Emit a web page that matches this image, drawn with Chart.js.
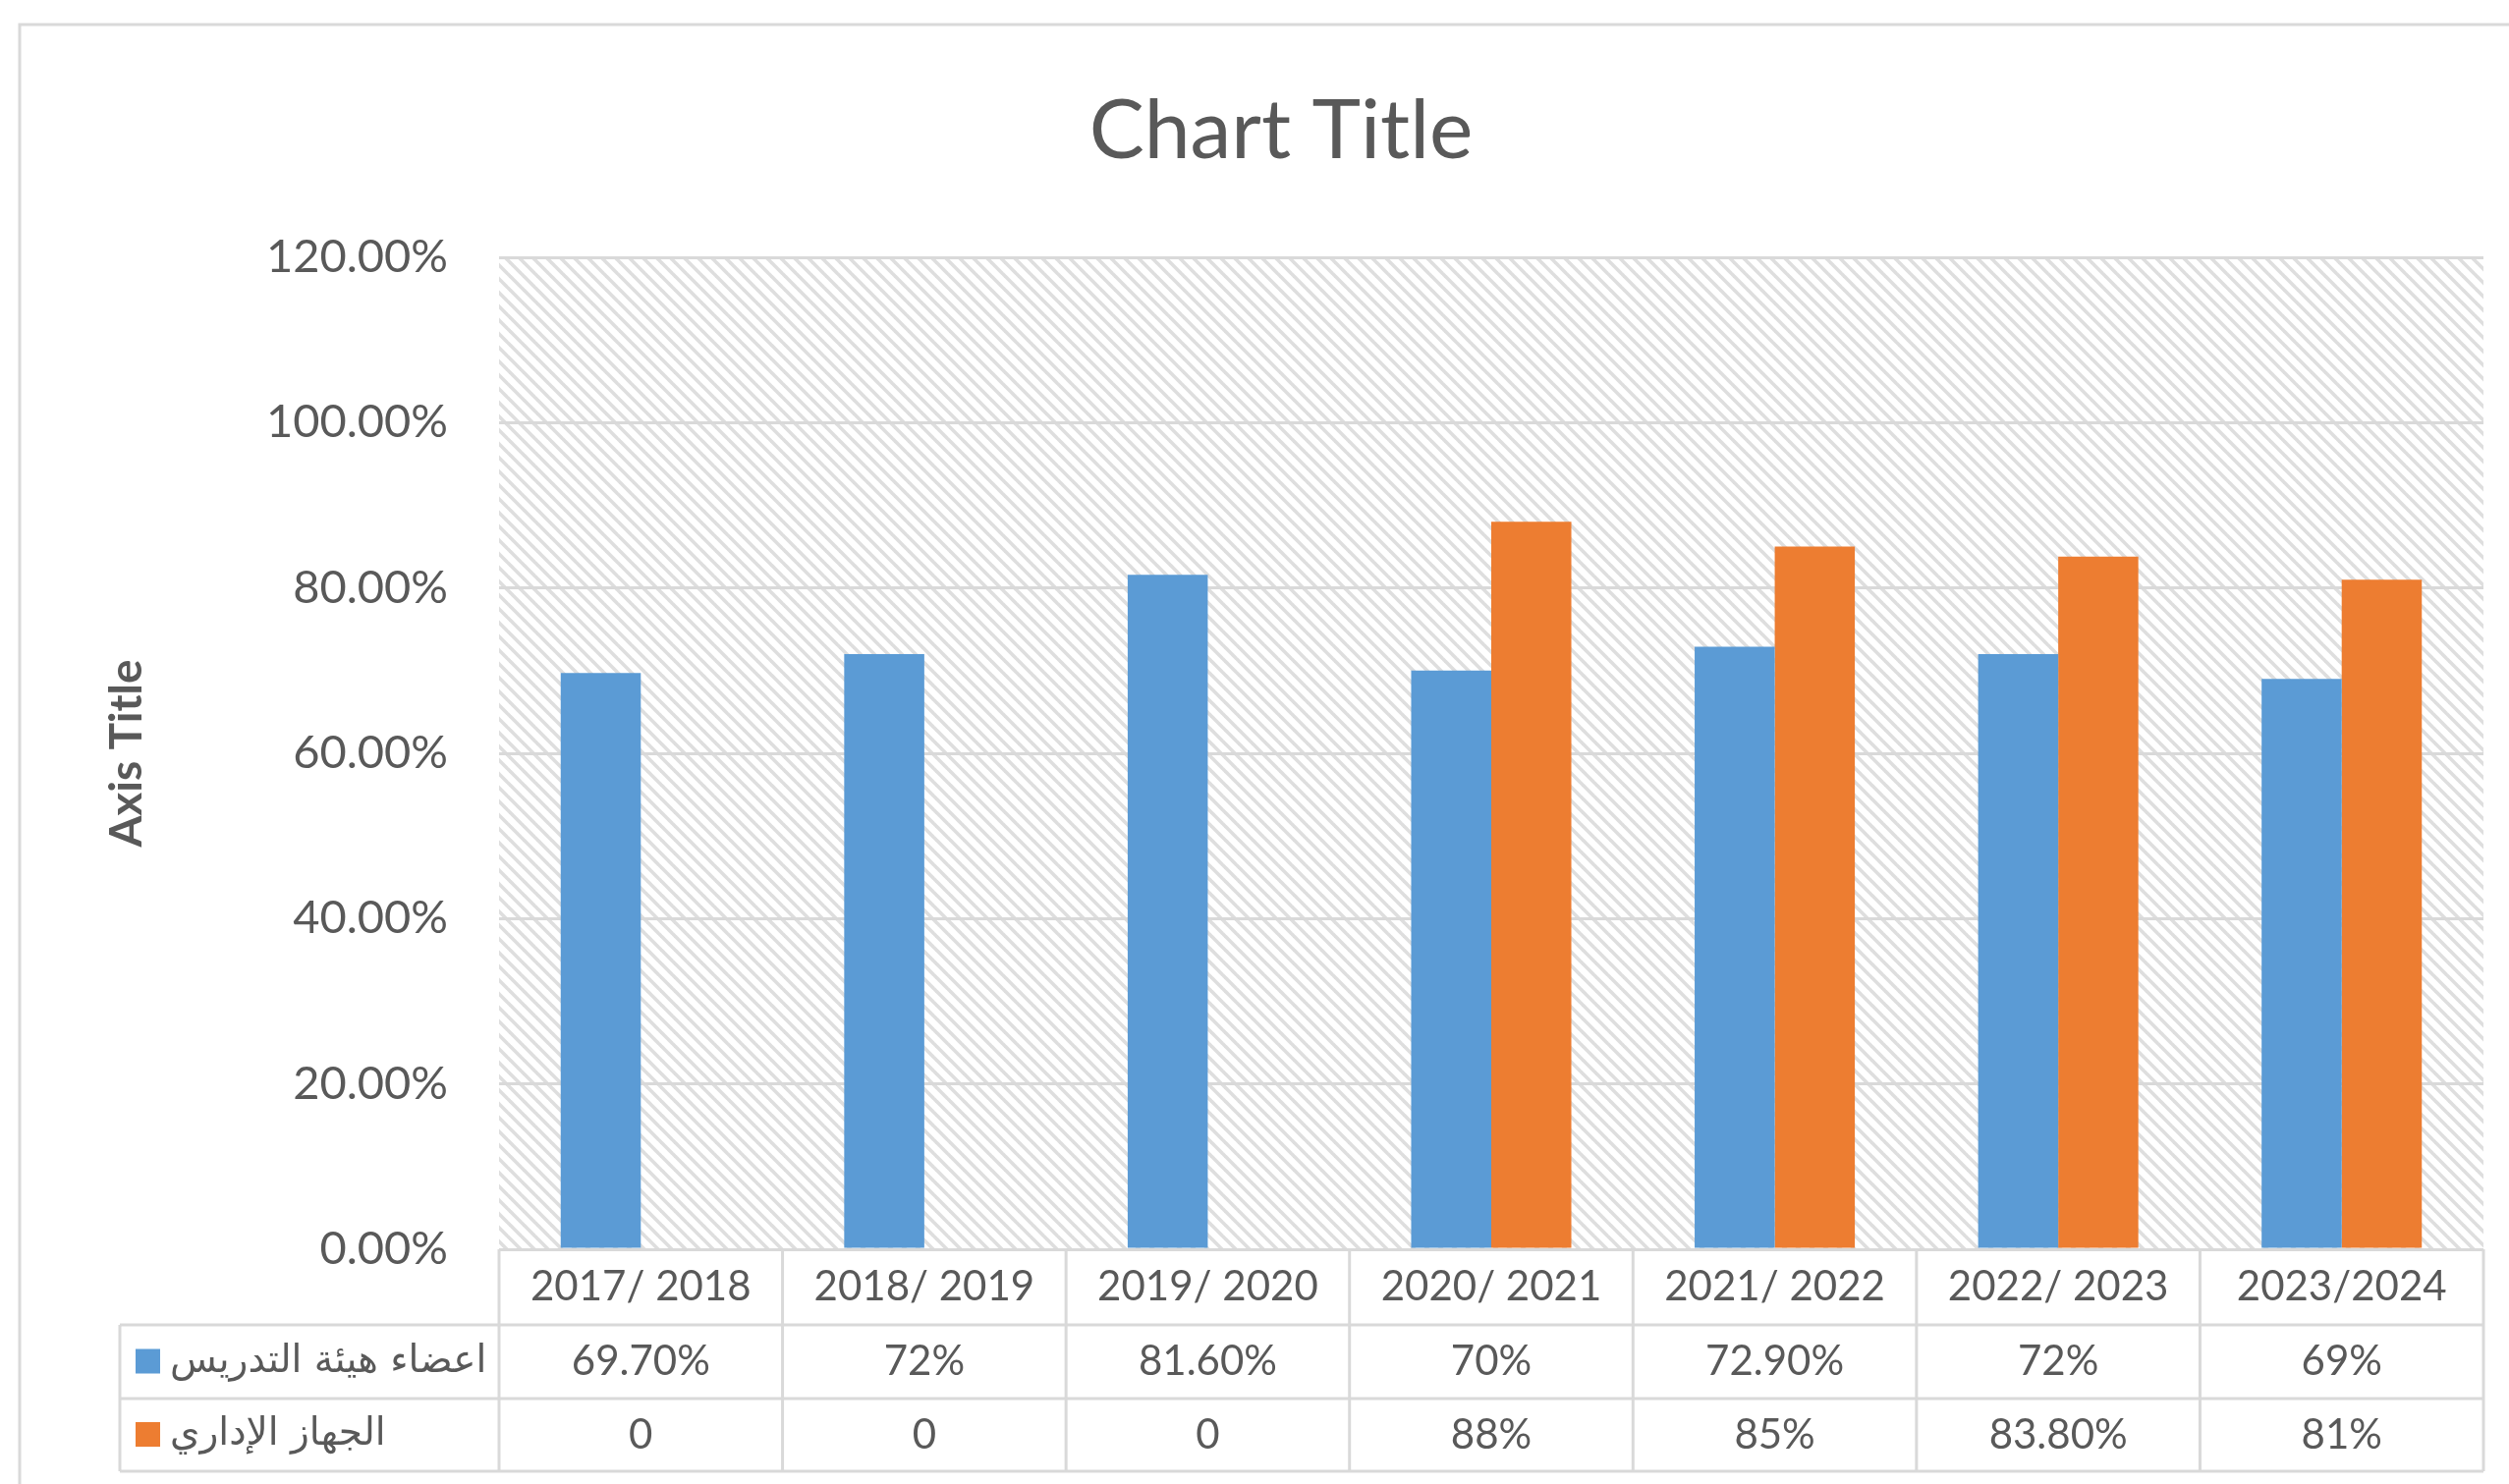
<!DOCTYPE html>
<html>
<head>
<meta charset="utf-8">
<script src="https://cdn.jsdelivr.net/npm/chart.js@4"></script>
<style>
  html, body { margin: 0; padding: 0; background: #fff; }
  canvas { display: block; }
</style>
</head>
<body>
<canvas id="grafica" width="2554" height="1511"></canvas>
<script>
// datos
var tituloGrafico = 'Chart Title';
var tituloEje = 'Axis Title';
var categorias = ['2017/ 2018', '2018/ 2019', '2019/ 2020', '2020/ 2021', '2021/ 2022', '2022/ 2023', '2023/2024'];
var nombresSeries = ['اعضاء هيئة التدريس', 'الجهاز الإداري'];
var valoresDocentes = [69.7, 72, 81.6, 70, 72.9, 72, 69];
var valoresAdmin = [0, 0, 0, 88, 85, 83.8, 81];
var etiquetasDocentes = ['69.70%', '72%', '81.60%', '70%', '72.90%', '72%', '69%'];
var etiquetasAdmin = ['0', '0', '0', '88%', '85%', '83.80%', '81%'];
var ejeMin = 0, ejeMax = 120, ejePaso = 20;

var colores = ['#5B9BD5', '#ED7D31'];
var gris = '#595959';
var lineaGris = '#d9d9d9';

function rayado(){
    var s = 14;
    var c = document.createElement('canvas');
    c.width = s; c.height = s;
    var g = c.getContext('2d');
    g.strokeStyle = '#dedede';
    g.lineWidth = 3.6;
    for (var k = -1; k <= 1; k++) {
        g.beginPath();
        g.moveTo(k * s - 1, -1);
        g.lineTo(k * s + s + 1, s + 1);
        g.stroke();
    }
    return g.createPattern(c, 'repeat');
}

/*tabla de datos debajo del grafico*/
var tablaPlugin = {
    id: 'tablaDatos',
    beforeDraw: function(chart){
        var ctx = chart.ctx, a = chart.chartArea;
        ctx.save();
        ctx.fillStyle = '#fff';
        ctx.fillRect(0, 0, chart.width, chart.height);
        ctx.strokeStyle = lineaGris;
        ctx.lineWidth = 3;
        ctx.strokeRect(20, 25, chart.width + 40, chart.height + 40);
        ctx.fillStyle = rayado();
        ctx.fillRect(a.left, a.top, a.right - a.left, a.bottom - a.top);
        // titulo
        ctx.fillStyle = gris;
        ctx.font = '84px Lato';
        ctx.textAlign = 'center';
        ctx.textBaseline = 'middle';
        ctx.fillText(tituloGrafico, 1304, 134);
        ctx.restore();
    },
    afterDraw: function(chart){
        var ctx = chart.ctx, a = chart.chartArea, x = chart.scales.x;
        var medio = (x.getPixelForValue(1) - x.getPixelForValue(0)) / 2;
        var filas = [a.bottom, a.bottom + 77, a.bottom + 152, a.bottom + 226];
        var izq = 122;
        ctx.save();
        ctx.strokeStyle = lineaGris;
        ctx.lineWidth = 3;
        ctx.beginPath();
        for (var r = 1; r < filas.length; r++) {
            ctx.moveTo(izq, filas[r]);
            ctx.lineTo(a.right, filas[r]);
        }
        for (var i = 0; i < categorias.length; i++) {
            var xl = x.getPixelForValue(i) - medio;
            ctx.moveTo(xl, filas[0]);
            ctx.lineTo(xl, filas[3]);
        }
        ctx.moveTo(a.right, filas[0]);
        ctx.lineTo(a.right, filas[3]);
        ctx.moveTo(izq, filas[1]);
        ctx.lineTo(izq, filas[3]);
        ctx.stroke();

        var filasTexto = [etiquetasDocentes, etiquetasAdmin];
        ctx.textAlign = 'center';
        ctx.textBaseline = 'middle';
        for (var f = 0; f < 2; f++) {
            var cy = (filas[f + 1] + filas[f + 2]) / 2;
            ctx.fillStyle = gris;
            ctx.font = '42px Lato';
            for (var j = 0; j < categorias.length; j++) {
                ctx.fillText(filasTexto[f][j], x.getPixelForValue(j), cy);
            }
            // leyenda
            ctx.fillStyle = colores[f];
            ctx.fillRect(138, cy - 13, 25, 25);
            ctx.fillStyle = gris;
            ctx.save();
            ctx.font = '39px "DejaVu Sans"';
            ctx.textAlign = 'left';
            ctx.fillText(nombresSeries[f], 173, cy);
            ctx.restore();
        }
        ctx.restore();
    }
};

var ctx = document.getElementById('grafica').getContext('2d');
var chart = new Chart(ctx, {
    type: 'bar',
    data: {
        labels: categorias,
        datasets: [{
            label: nombresSeries[0],
            backgroundColor: colores[0],
            data: valoresDocentes
        },{
            label: nombresSeries[1],
            backgroundColor: colores[1],
            data: valoresAdmin
        }]
    },
    options: {
        responsive: false,
        devicePixelRatio: 1,
        animation: false,
        layout: {padding: {left: 0, right: 26, top: 262, bottom: 0}},
        datasets: {bar: {categoryPercentage: 0.565, barPercentage: 1}},
        plugins: {
            legend: {display: false},
            tooltip: {enabled: false},
            title: {display: false}
        },
        scales: {
            x: {
                grid: {display: false, drawTicks: false},
                border: {display: false},
                ticks: {color: gris, font: {family: 'Lato', size: 42}, padding: 13, maxRotation: 0, autoSkip: false},
                afterFit: function(s){ s.height = 239; }
            },
            y: {
                min: ejeMin,
                max: ejeMax,
                grid: {color: lineaGris, lineWidth: 3, drawTicks: false},
                border: {display: false},
                ticks: {
                    stepSize: ejePaso,
                    color: gris,
                    font: {family: 'Lato', size: 47},
                    padding: 52,
                    callback: function(v){ return v.toFixed(2) + '%'; }
                },
                title: {
                    display: true,
                    text: tituloEje,
                    color: gris,
                    font: {family: 'Lato', size: 46, weight: 'bold'},
                    padding: {top: 102, bottom: 0}
                },
                afterFit: function(s){ s.width = 508; }
            }
        }
    },
    plugins: [tablaPlugin]
});
</script>
</body>
</html>
